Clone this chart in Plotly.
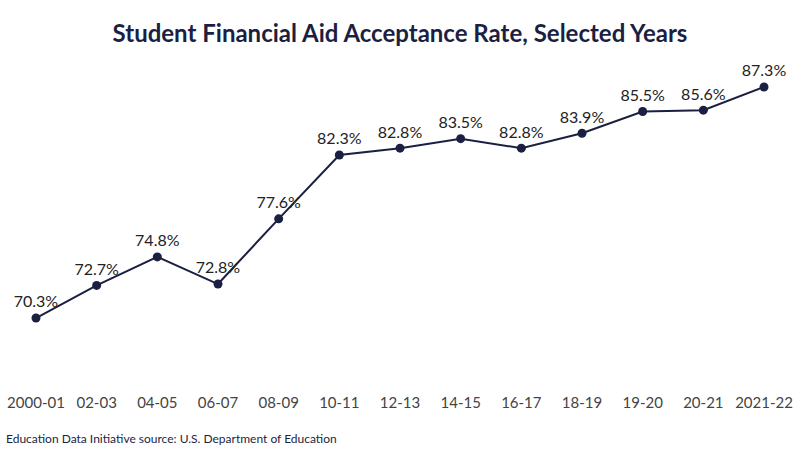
import plotly.graph_objects as go

years = ["2000-01", "02-03", "04-05", "06-07", "08-09", "10-11", "12-13",
         "14-15", "16-17", "18-19", "19-20", "20-21", "2021-22"]
rates = [70.3, 72.7, 74.8, 72.8, 77.6, 82.3, 82.8, 83.5, 82.8, 83.9, 85.5, 85.6, 87.3]
labels = [f"{v:.1f}%" for v in rates]

navy = "#1b1f42"

fig = go.Figure()
fig.add_trace(go.Scatter(
    x=list(range(len(years))), y=rates, mode="lines+markers+text",
    line=dict(color=navy, width=2),
    marker=dict(color=navy, size=9),
    text=labels, textposition="top center",
    textfont=dict(family="Lato, Noto Sans, sans-serif", size=16, color="#222222"),
    cliponaxis=False, hoverinfo="skip",
))

fig.update_layout(
    width=800, height=450,
    margin=dict(l=0, r=0, t=60, b=58),
    paper_bgcolor="white", plot_bgcolor="white",
    showlegend=False,
    title=dict(text="<b>Student Financial Aid Acceptance Rate, Selected Years</b>",
               x=0.5, xanchor="center", y=0.925, yanchor="middle",
               font=dict(family="Lato, Noto Sans, sans-serif", size=24, color=navy)),
    xaxis=dict(range=[-0.593, 12.593], tickmode="array",
               tickvals=list(range(len(years))), ticktext=years,
               showgrid=False, zeroline=False, showline=False, ticks="",
               tickfont=dict(family="Lato, Noto Sans, sans-serif", size=15, color="#444444")),
    yaxis=dict(range=[64.855, 89.29], visible=False, showgrid=False, zeroline=False),
    annotations=[dict(text="Education Data Initiative source: U.S. Department of Education",
                      xref="paper", yref="paper", x=0, y=0, xanchor="left", yanchor="middle",
                      xshift=4, yshift=-46, showarrow=False,
                      font=dict(family="Lato, Noto Sans, sans-serif", size=12, color=navy))],
)

fig.write_html("out.html", config={"displayModeBar": False},
               post_script="document.body.style.margin='0';document.body.style.overflow='hidden';")
